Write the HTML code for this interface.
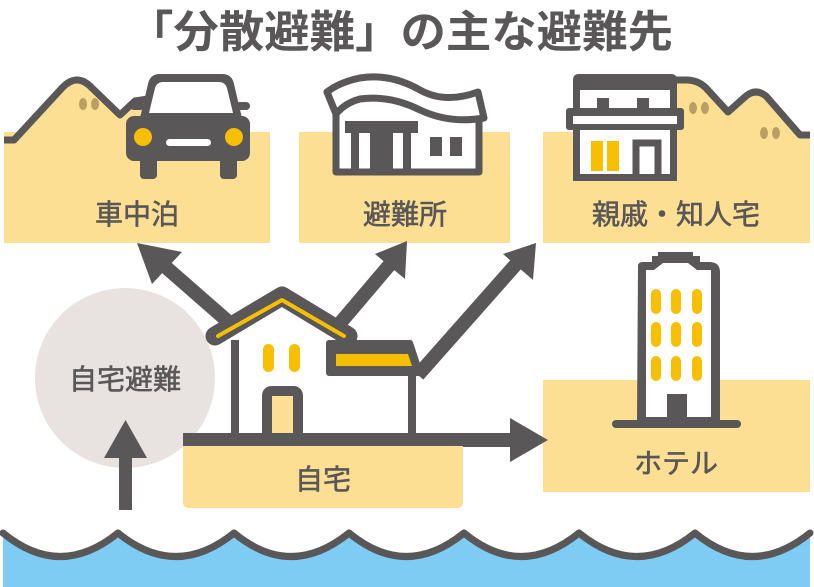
<!DOCTYPE html>
<html><head><meta charset="utf-8"><style>
html,body{margin:0;padding:0;background:#fff;}
svg{display:block;}
text{font-family:"Liberation Sans","Noto Sans CJK JP",sans-serif;fill:#595757;}
.lb{font-size:28px;stroke:#595757;stroke-width:0.6px;}
</style></head><body>
<svg width="814" height="587" viewBox="0 0 814 587" xmlns="http://www.w3.org/2000/svg">
<text x="128" y="47" font-size="44" font-weight="bold" textLength="545" lengthAdjust="spacingAndGlyphs">「分散避難」の主な避難先</text>

<rect x="4" y="132" width="266" height="111" fill="#fddf93"/>
<rect x="299" y="132" width="211" height="111" fill="#fddf93"/>
<rect x="543" y="132" width="267" height="111" fill="#fddf93"/>
<rect x="543" y="380" width="267" height="112" fill="#fddf93"/>
<rect x="183" y="433" width="280" height="75" rx="5" fill="#fddf93"/>

<path d="M4,140 L14,140 L62,88 Q77,72 92,88 L120,115 L135,101 L150,101 L150,140 Z" fill="#fddf93"/>
<path d="M4,140 L14,140 L62,88 Q77,72 92,88 L120,115 L135,101 L148,99" fill="none" stroke="#595757" stroke-width="7" stroke-linejoin="round"/>
<ellipse cx="83" cy="104" rx="4" ry="6" fill="#b9a062"/><ellipse cx="95" cy="104" rx="4" ry="6" fill="#b9a062"/>
<path d="M676,80 L686,80 Q698,80 706,88 L728,112 L746,96 Q756,88 766,96 L800,135 L810,135 L810,140 L676,140 Z" fill="#fddf93"/>
<path d="M676,80 L686,80 Q698,80 706,88 L728,112 L746,96 Q756,88 766,96 L800,135 L810,135" fill="none" stroke="#595757" stroke-width="7" stroke-linejoin="round"/>
<ellipse cx="693" cy="108" rx="4" ry="6" fill="#b9a062"/><ellipse cx="705" cy="108" rx="4" ry="6" fill="#b9a062"/>
<ellipse cx="764" cy="133" rx="4" ry="6" fill="#b9a062"/><ellipse cx="776" cy="133" rx="4" ry="6" fill="#b9a062"/>

<path d="M140,118 L148,84 Q150,74 160,74 L222,74 Q232,74 234,84 L242,118 Z" fill="#595757"/>
<path d="M149,113 L155,88 Q157,82 163,82 L219,82 Q225,82 227,88 L233,113 Z" fill="#fff"/>
<rect x="126" y="116" width="124" height="45" rx="8" fill="#595757"/>
<rect x="130" y="102" width="14" height="8" rx="4" fill="#595757"/><rect x="236" y="102" width="14" height="8" rx="4" fill="#595757"/>
<rect x="140" y="155" width="17" height="24" rx="4" fill="#595757"/><rect x="220" y="155" width="17" height="24" rx="4" fill="#595757"/>
<circle cx="143" cy="137" r="9" fill="#f8bf00"/><circle cx="234" cy="137" r="9" fill="#f8bf00"/>
<rect x="166" y="139" width="45" height="7" rx="3.5" fill="#fff"/>
<text class="lb" x="137" y="224" text-anchor="middle">車中泊</text>

<path d="M329,94 Q330,85 340,83 Q380,72 420,92 Q445,104 470,94 L482,120 L482,172 L333,172 L333,120 Z" fill="#fff"/>
<path d="M327,92 Q340,82 360,78 Q390,73 420,90 Q445,104 478,92 L484,118 Q450,124 420,110 Q390,95 360,99 Q345,103 336,114 Z" fill="#fff" stroke="#595757" stroke-width="7" stroke-linejoin="round"/>
<path d="M336,114 L336,172 L479,172 L479,118" fill="none" stroke="#595757" stroke-width="7" stroke-linejoin="round"/>
<rect x="345" y="121" width="73" height="12" fill="#595757"/>
<rect x="351" y="130" width="8" height="42" fill="#595757"/><rect x="370" y="130" width="23" height="42" fill="#595757"/><rect x="403" y="130" width="8" height="42" fill="#595757"/>
<rect x="430" y="137" width="12" height="19" fill="#595757"/><rect x="450" y="137" width="12" height="19" fill="#595757"/>
<text class="lb" x="405" y="224" text-anchor="middle">避難所</text>

<path d="M573,80 Q573,74 579,74 L671,74 Q677,74 677,80 L677,181 L573,181 Z" fill="#595757"/>
<rect x="580" y="90" width="90" height="84" fill="#fff"/>
<rect x="597" y="98" width="12" height="10" fill="#595757"/><rect x="637" y="98" width="12" height="10" fill="#595757"/>
<rect x="566" y="108" width="118" height="22" rx="3" fill="#595757"/>
<rect x="573" y="116" width="104" height="8" fill="#fff"/>
<rect x="591" y="141" width="12" height="30" fill="#f8bf00"/><rect x="607" y="141" width="12" height="30" fill="#f8bf00"/>
<path d="M636,174 L636,143 L658,143 L658,174" fill="none" stroke="#595757" stroke-width="7"/>
<text class="lb" x="676" y="224" text-anchor="middle">親戚・知人宅</text>

<circle cx="125" cy="378" r="90" fill="#e8e3e1"/>
<text class="lb" x="125" y="389" text-anchor="middle">自宅避難</text>
<rect x="119" y="455" width="13" height="55" fill="#595757"/>
<polygon points="104,458 147,458 125.5,420" fill="#595757"/>

<g stroke="#595757" stroke-width="14" fill="none">
<line x1="232" y1="325" x2="160" y2="262"/>
<line x1="330" y1="335" x2="392" y2="262"/>
<line x1="418" y1="375" x2="518" y2="262"/>
<line x1="463" y1="440" x2="515" y2="440"/>
</g>
<polygon points="137,243 182,252 152,284" fill="#595757"/>
<polygon points="407,241 375,254 405,279" fill="#595757"/>
<polygon points="536,243 503,254 533,280" fill="#595757"/>
<polygon points="510,418 548,440 510,462" fill="#595757"/>

<path d="M233,332 L282,302 L332,330 L332,350 L413,350 L413,433 L233,433 Z" fill="#fff"/>
<path d="M235,340 L235,433 M412,375 L412,433" stroke="#595757" stroke-width="8" fill="none"/>
<path d="M215,336 L282,296 L348,336" stroke="#595757" stroke-width="19" fill="none" stroke-linecap="round" stroke-linejoin="round"/>
<path d="M218,336 L282,300 L344,336" stroke="#f8bf00" stroke-width="4" fill="none" stroke-linecap="round" stroke-linejoin="round"/>
<path d="M329,343 L410,343 L420,373 L329,373 Z" fill="#595757" stroke="#595757" stroke-width="6" stroke-linejoin="round"/>
<path d="M336,354 L408,354 L412,366 L336,366 Z" fill="#f8bf00"/>
<rect x="263" y="344" width="11" height="28" rx="5.5" fill="#f8bf00"/><rect x="289" y="344" width="11" height="28" rx="5.5" fill="#f8bf00"/>
<path d="M267,433 L267,396 Q267,391 272,391 L293,391 Q298,391 298,396 L298,433" fill="#fddf93" stroke="#595757" stroke-width="10"/>
<rect x="183" y="433" width="280" height="13" fill="#595757"/>
<text class="lb" x="323" y="489" text-anchor="middle">自宅</text>

<path d="M638,266 Q638,262 643,262 L652,262 L652,256 L658,256 L658,252 L693,252 L693,256 L700,256 L700,262 L709,262 Q720,262 720,272 L720,421 L637,421 Z" fill="#595757"/>
<path d="M646,270 L654,270 L663,263 L688,263 L697,270 L711,270 L711,417 L646,417 Z" fill="#fff"/>
<g fill="#f8bf00">
<rect x="651" y="289" width="10" height="25" rx="5"/><rect x="671" y="289" width="10" height="25" rx="5"/><rect x="692" y="289" width="10" height="25" rx="5"/>
<rect x="651" y="322" width="10" height="25" rx="5"/><rect x="671" y="322" width="10" height="25" rx="5"/><rect x="692" y="322" width="10" height="25" rx="5"/>
<rect x="651" y="356" width="10" height="25" rx="5"/><rect x="671" y="356" width="10" height="25" rx="5"/><rect x="692" y="356" width="10" height="25" rx="5"/>
</g>
<rect x="667" y="394" width="20" height="25" fill="#595757"/>
<rect x="612" y="420" width="129" height="8" rx="4" fill="#595757"/>
<text class="lb" x="676" y="473" text-anchor="middle">ホテル</text>

<path d="M3,533 Q60,580 118,533 Q176,580 234,533 Q291,580 349,533 Q406,580 464,533 Q521,580 579,533 Q637,580 695,533 Q752,580 810,533 L810,587 L3,587 Z" fill="#7ecbf3"/>
<path d="M3,533 Q60,580 118,533 Q176,580 234,533 Q291,580 349,533 Q406,580 464,533 Q521,580 579,533 Q637,580 695,533 Q752,580 810,533" fill="none" stroke="#595757" stroke-width="7" stroke-linejoin="round" stroke-linecap="round"/>
</svg>
</body></html>
